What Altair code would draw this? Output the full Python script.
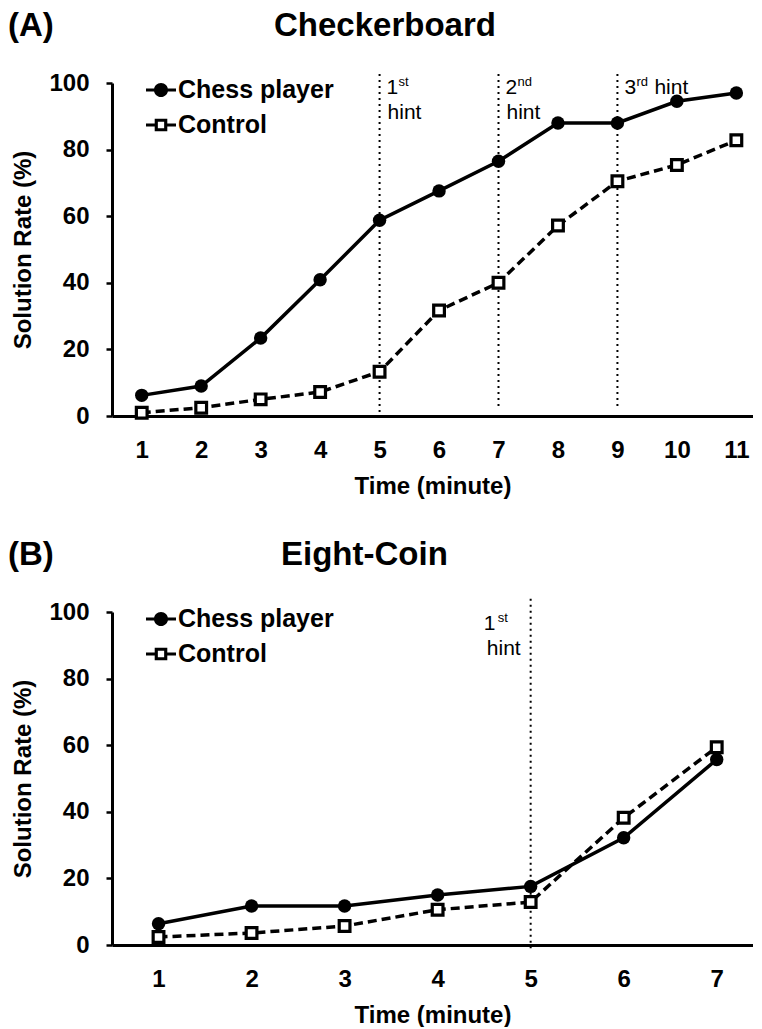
import altair as alt
import pandas as pd

FONT = "Liberation Sans"

# ---------------- data ----------------
groups = ["Chess player", "Control"]
y_ticks = [0, 20, 40, 60, 80, 100]

time_a = [1, 2, 3, 4, 5, 6, 7, 8, 9, 10, 11]
chess_a = [6.2, 9.0, 23.4, 40.9, 58.8, 67.6, 76.5, 88.0, 88.0, 94.5, 97.0]
control_a = [1.0, 2.5, 5.0, 7.2, 13.3, 31.7, 40.0, 57.2, 70.5, 75.4, 82.8]

time_b = [1, 2, 3, 4, 5, 6, 7]
chess_b = [6.4, 11.7, 11.7, 15.0, 17.6, 32.2, 55.7]
control_b = [2.4, 3.6, 5.7, 10.6, 12.9, 38.2, 59.4]

hint_a_x = [5, 7, 9]
hint_a_num = ["1", "2", "3"]
hint_a_sup = ["st", "nd", "rd"]
hint_a_word_x = [5, 7]
hint_a_inline_x = [9]
hint_a_top = [102.7, 102.7, 102.7]
hint_a_bottom = [-1.5, 2.5, 2.5]

hint_b_x = [5]
hint_b_num = ["1"]
hint_b_sup = ["st"]
hint_b_top = [104.0]
hint_b_bottom = [-1.0]

panel_labels = ["(A)", "(B)"]
panel_titles = ["Checkerboard", "Eight-Coin"]

# legend symbols (short line stub + marker), defined in the unit square
CHESS_PATH = ("M-1,-0.1H-0.45V0.1H-1Z M0.45,-0.1H1V0.1H0.45Z "
              "M-0.47,0A0.47,0.47 0 1,1 0.47,0A0.47,0.47 0 1,1 -0.47,0Z")
CONTROL_PATH = ("M-1,-0.1H-0.42V0.1H-1Z M0.42,-0.1H1V0.1H0.42Z "
                "M-0.42,-0.42H0.42V0.42H-0.42Z M-0.21,-0.21V0.21H0.21V-0.21Z")


def long_df(times, chess, control):
    return pd.DataFrame({
        "Time": times + times,
        "Rate": chess + control,
        "Group": [groups[0]] * len(times) + [groups[1]] * len(times),
    })


def panel(times, chess, control, xmax, label, title, title_dx,
          rule_x, rule_top, rule_bottom, text_layers):
    df = long_df(times, chess, control)
    x = alt.X("Time:Q",
              scale=alt.Scale(domain=[0.5, xmax], nice=False, zero=False),
              axis=alt.Axis(values=times, format="d", title="Time (minute)",
                            ticks=False, labelPadding=22, titlePadding=12))
    y = alt.Y("Rate:Q", scale=alt.Scale(domain=[0, 100], nice=False),
              axis=alt.Axis(values=y_ticks, title="Solution Rate (%)",
                            tickSize=6, labelPadding=17, titlePadding=13))

    line_chess = alt.Chart(df).transform_filter(alt.datum.Group == groups[0]).mark_line(
        color="black", strokeWidth=3.5
    ).encode(x=x, y=y)
    line_ctrl = alt.Chart(df).transform_filter(alt.datum.Group == groups[1]).mark_line(
        color="black", strokeWidth=3.5, strokeDash=[9, 5]
    ).encode(x="Time:Q", y="Rate:Q")
    pts_chess = alt.Chart(df).transform_filter(alt.datum.Group == groups[0]).mark_point(
        shape="circle", filled=True, color="black", size=180, opacity=1
    ).encode(x="Time:Q", y="Rate:Q")
    pts_ctrl = alt.Chart(df).transform_filter(alt.datum.Group == groups[1]).mark_point(
        shape="square", filled=True, fill="white", stroke="black", strokeWidth=3.2,
        size=115, opacity=1
    ).encode(x="Time:Q", y="Rate:Q")

    # invisible layer (size 0) whose only job is to carry the legend
    legend_layer = alt.Chart(df).mark_point(
        filled=True, color="black", size=0
    ).encode(
        x="Time:Q", y="Rate:Q",
        shape=alt.Shape("Group:N",
                        scale=alt.Scale(domain=groups, range=[CHESS_PATH, CONTROL_PATH]),
                        legend=alt.Legend(title=None, orient="none", legendX=34, legendY=-8,
                                          symbolSize=900, symbolStrokeWidth=0,
                                          symbolFillColor="black", symbolOpacity=1,
                                          labelFont=FONT, labelFontSize=25,
                                          labelFontWeight="bold", labelColor="black",
                                          labelOffset=2, rowPadding=7, padding=0,
                                          labelLimit=400)),
    )

    rules_df = pd.DataFrame({"Time": rule_x, "Rate": rule_top, "Rate2": rule_bottom})
    rules = alt.Chart(rules_df).mark_rule(
        color="black", strokeWidth=2, strokeDash=[2, 4]
    ).encode(x="Time:Q", y="Rate:Q", y2="Rate2:Q")

    head = pd.DataFrame({"label": [label], "title": [title]})
    label_layer = alt.Chart(head).mark_text(
        align="left", baseline="alphabetic", font=FONT, fontSize=33,
        fontWeight="bold", color="black"
    ).encode(x=alt.value(-104), y=alt.value(-47), text="label:N")
    title_layer = alt.Chart(head).mark_text(
        align="left", baseline="alphabetic", font=FONT, fontSize=33,
        fontWeight="bold", color="black"
    ).encode(x=alt.value(title_dx), y=alt.value(-47), text="title:N")

    layers = ([rules, line_chess, line_ctrl, pts_chess, pts_ctrl, legend_layer]
              + text_layers + [label_layer, title_layer])
    return alt.layer(*layers).properties(width=641, height=333)


def text_chart(xs, labels, ypos, align, dx, dy, size):
    d = pd.DataFrame({"Time": xs, "Rate": [ypos] * len(xs), "label": labels})
    return alt.Chart(d).mark_text(
        align=align, baseline="alphabetic", dx=dx, dy=dy, font=FONT,
        fontSize=size, color="black"
    ).encode(x="Time:Q", y="Rate:Q", text="label:N")


texts_a = [
    text_chart(hint_a_x, hint_a_num, 96.7, "left", 7, 0, 21),
    text_chart(hint_a_x, hint_a_sup, 96.7, "left", 19, -8, 13),
    text_chart(hint_a_word_x, ["hint"] * len(hint_a_word_x), 89.2, "left", 8, 0, 21),
    text_chart(hint_a_inline_x, ["hint"] * len(hint_a_inline_x), 96.7, "left", 37, 0, 21),
]
texts_b = [
    text_chart(hint_b_x, hint_b_num, 94.6, "left", -47, 0, 21),
    text_chart(hint_b_x, hint_b_sup, 94.6, "left", -33, -8, 13),
    text_chart(hint_b_x, ["hint"], 87.1, "right", -10, 0, 21),
]

panel_a = panel(time_a, chess_a, control_a, 11.28, panel_labels[0], panel_titles[0], 162,
                hint_a_x, hint_a_top, hint_a_bottom, texts_a)
panel_b = panel(time_b, chess_b, control_b, 7.39, panel_labels[1], panel_titles[1], 169,
                hint_b_x, hint_b_top, hint_b_bottom, texts_b)

chart = alt.vconcat(panel_a, panel_b, spacing=41).resolve_scale(
    shape="independent"
).resolve_legend(shape="independent").properties(
    padding={"left": 0, "top": 2, "right": 0, "bottom": 0}
).configure_view(stroke=None).configure_axis(
    grid=False, domainColor="black", domainWidth=3, tickColor="black", tickWidth=2.5,
    labelFont=FONT, labelFontSize=24, labelFontWeight="bold", labelColor="black",
    titleFont=FONT, titleFontSize=24, titleFontWeight="bold", titleColor="black",
)

chart.save("out.html", embed_options={"renderer": "svg", "actions": False})
